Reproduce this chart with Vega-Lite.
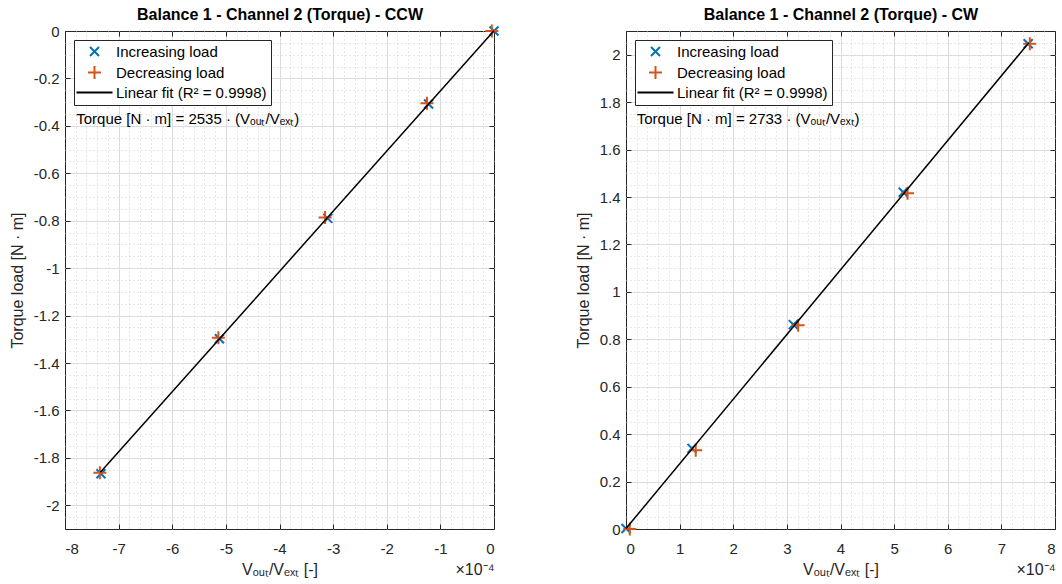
{
  "$schema": "https://vega.github.io/schema/vega-lite/v6.json",
  "background": "white",
  "padding": {"left": 8, "top": 6, "right": 0, "bottom": 0},
  "datasets": {
    "ccw": [
      {"series": "Increasing load", "x": 0, "y": 0},
      {"series": "Increasing load", "x": -0.000122, "y": -0.308},
      {"series": "Increasing load", "x": -0.000310, "y": -0.790},
      {"series": "Increasing load", "x": -0.000512, "y": -1.298},
      {"series": "Increasing load", "x": -0.000733, "y": -1.867},
      {"series": "Decreasing load", "x": -0.000004, "y": 0},
      {"series": "Decreasing load", "x": -0.000125, "y": -0.305},
      {"series": "Decreasing load", "x": -0.000315, "y": -0.786},
      {"series": "Decreasing load", "x": -0.000514, "y": -1.294},
      {"series": "Decreasing load", "x": -0.000735, "y": -1.863},
      {"series": "Linear fit (R² = 0.9998)", "x": -0.000734, "y": -1.861},
      {"series": "Linear fit (R² = 0.9998)", "x": 0, "y": 0.001}
    ],
    "cw": [
      {"series": "Increasing load", "x": 0, "y": 0.002},
      {"series": "Increasing load", "x": 0.000123, "y": 0.340},
      {"series": "Increasing load", "x": 0.000312, "y": 0.862},
      {"series": "Increasing load", "x": 0.000517, "y": 1.420},
      {"series": "Increasing load", "x": 0.000750, "y": 2.046},
      {"series": "Decreasing load", "x": 0.000007, "y": 0},
      {"series": "Decreasing load", "x": 0.000130, "y": 0.332},
      {"series": "Decreasing load", "x": 0.000321, "y": 0.859},
      {"series": "Decreasing load", "x": 0.000525, "y": 1.416},
      {"series": "Decreasing load", "x": 0.000753, "y": 2.046},
      {"series": "Linear fit (R² = 0.9998)", "x": 0, "y": 0.002},
      {"series": "Linear fit (R² = 0.9998)", "x": 0.000751, "y": 2.050}
    ]
  },
  "config": {
    "font": "Liberation Sans",
    "view": {"stroke": "#262626", "strokeWidth": 1},
    "axis": {
      "labelFont": "Liberation Sans",
      "titleFont": "Liberation Sans",
      "labelFontSize": 15,
      "titleFontSize": 16,
      "titleFontWeight": "normal",
      "labelColor": "#262626",
      "titleColor": "#262626",
      "tickColor": "#262626",
      "domain": false
    },
    "legend": {
      "orient": "top-left",
      "offset": 9,
      "padding": 4,
      "strokeColor": "#262626",
      "fillColor": "white",
      "labelFont": "Liberation Sans",
      "labelFontSize": 15,
      "labelColor": "#000000",
      "symbolSize": 100,
      "symbolStrokeWidth": 2,
      "symbolOffset": 9,
      "labelOffset": 14,
      "rowPadding": 2,
      "title": null
    }
  },
  "resolve": {"scale": {"color": "independent", "shape": "independent"}},
  "spacing": 71,
  "hconcat": [
    {
      "width": 429,
      "height": 498,
      "data": {"name": "ccw"},
      "layer": [
        {
          "transform": [{"filter": "datum.series == 'Increasing load'"}],
          "mark": {"type": "point", "filled": false, "strokeWidth": 2, "size": 100, "opacity": 1},
          "encoding": {
            "x": {"field": "x", "type": "quantitative", "scale": {"domain": [-0.0008, 0], "nice": false, "zero": false, "padding": 0},
              "axis": {"orient": "bottom", "tickCount": 8, "grid": true, "gridColor": "#e0e0e0", "tickSize": -5, "labelPadding": 17,
                "gridOpacity": {"condition": {"test": "datum.value < -0.000799 || datum.value > -0.000001", "value": 0}, "value": 1},
                "labelExpr": "'' + round(datum.value * 10000)", "title": "Vₒᵤₜ/Vₑₓₜ [-]", "titlePadding": 5}},
            "y": {"field": "y", "type": "quantitative", "scale": {"domain": [-2.1, 0], "nice": false, "zero": false, "padding": 0},
              "axis": {"orient": "left", "tickCount": 10, "grid": true, "gridColor": "#e0e0e0", "tickSize": -5, "labelPadding": 11,
                "gridOpacity": {"condition": {"test": "datum.value < -2.099 || datum.value > -0.001", "value": 0}, "value": 1},
                "labelExpr": "'' + round(datum.value * 10) / 10", "title": "Torque load [N · m]", "titlePadding": 8}},
            "color": {"field": "series", "type": "nominal",
              "scale": {"domain": ["Increasing load", "Decreasing load", "Linear fit (R² = 0.9998)"], "range": ["#0072BD", "#D95319", "#000000"]}},
            "shape": {"field": "series", "type": "nominal",
              "scale": {"domain": ["Increasing load", "Decreasing load", "Linear fit (R² = 0.9998)"],
                "range": ["M-0.9,-0.9L0.9,0.9M-0.9,0.9L0.9,-0.9", "M-1.3,0L1.3,0M0,-1.3L0,1.3", "M-3.6,0L3.6,0"]}}
          }
        },
        {
          "transform": [{"filter": "datum.series == 'Decreasing load'"}],
          "mark": {"type": "point", "filled": false, "strokeWidth": 2, "size": 100, "opacity": 1},
          "encoding": {
            "x": {"field": "x", "type": "quantitative",
              "axis": {"orient": "top", "tickCount": 8, "grid": false, "labels": false, "tickSize": -5, "minExtent": 0,
                "title": "Balance 1 - Channel 2 (Torque) - CCW", "titleFontWeight": "bold", "titleFontSize": 16, "titleColor": "#000000", "titlePadding": 8}},
            "y": {"field": "y", "type": "quantitative",
              "axis": {"orient": "right", "tickCount": 10, "grid": false, "labels": false, "tickSize": -5, "minExtent": 0, "title": null}},
            "color": {"field": "series", "type": "nominal"},
            "shape": {"field": "series", "type": "nominal"}
          }
        },
        {
          "transform": [{"filter": "datum.series == 'Linear fit (R² = 0.9998)'"}],
          "mark": {"type": "line", "strokeWidth": 1.5},
          "encoding": {
            "x": {"field": "x", "type": "quantitative",
              "axis": {"orient": "bottom", "tickCount": 40, "grid": true, "gridColor": "#d0d0d0", "gridDash": [1, 3], "ticks": false, "labels": false, "minExtent": 0,
                "gridOpacity": {"condition": {"test": "datum.value < -0.000799 || datum.value > -0.000001", "value": 0}, "value": 1},
                "title": "×10⁻⁴", "titleAnchor": "end", "titleAlign": "right", "titleFontSize": 16, "titlePadding": 32}},
            "y": {"field": "y", "type": "quantitative",
              "axis": {"orient": "left", "tickCount": 42, "grid": true, "gridColor": "#d0d0d0", "gridDash": [1, 3], "ticks": false, "labels": false, "minExtent": 0, "title": null,
                "gridOpacity": {"condition": {"test": "datum.value < -2.099 || datum.value > -0.001", "value": 0}, "value": 1}}},
            "color": {"field": "series", "type": "nominal"}
          }
        },
        {
          "data": {"values": [{"label": "Torque [N · m] = 2535 · (Vₒᵤₜ/Vₑₓₜ)"}]},
          "mark": {"type": "text", "align": "left", "baseline": "middle", "fontSize": 15, "font": "Liberation Sans", "color": "#000000"},
          "encoding": {
            "x": {"datum": -0.000779, "type": "quantitative", "axis": null},
            "y": {"datum": -0.372, "type": "quantitative", "axis": null},
            "text": {"field": "label", "type": "nominal"}
          }
        }
      ],
      "resolve": {"axis": {"x": "independent", "y": "independent"}}
    },
    {
      "width": 429,
      "height": 498,
      "data": {"name": "cw"},
      "layer": [
        {
          "transform": [{"filter": "datum.series == 'Increasing load'"}],
          "mark": {"type": "point", "filled": false, "strokeWidth": 2, "size": 100, "opacity": 1},
          "encoding": {
            "x": {"field": "x", "type": "quantitative", "scale": {"domain": [0, 0.0008], "nice": false, "zero": false, "padding": 0},
              "axis": {"orient": "bottom", "tickCount": 8, "grid": true, "gridColor": "#e0e0e0", "tickSize": -5, "labelPadding": 17,
                "gridOpacity": {"condition": {"test": "datum.value < 0.000001 || datum.value > 0.000799", "value": 0}, "value": 1},
                "labelExpr": "'' + round(datum.value * 10000)", "title": "Vₒᵤₜ/Vₑₓₜ [-]", "titlePadding": 5}},
            "y": {"field": "y", "type": "quantitative", "scale": {"domain": [0, 2.1], "nice": false, "zero": false, "padding": 0},
              "axis": {"orient": "left", "tickCount": 10, "grid": true, "gridColor": "#e0e0e0", "tickSize": -5, "labelPadding": 11,
                "gridOpacity": {"condition": {"test": "datum.value < 0.001 || datum.value > 2.099", "value": 0}, "value": 1},
                "labelExpr": "'' + round(datum.value * 10) / 10", "title": "Torque load [N · m]", "titlePadding": 8}},
            "color": {"field": "series", "type": "nominal",
              "scale": {"domain": ["Increasing load", "Decreasing load", "Linear fit (R² = 0.9998)"], "range": ["#0072BD", "#D95319", "#000000"]}},
            "shape": {"field": "series", "type": "nominal",
              "scale": {"domain": ["Increasing load", "Decreasing load", "Linear fit (R² = 0.9998)"],
                "range": ["M-0.9,-0.9L0.9,0.9M-0.9,0.9L0.9,-0.9", "M-1.3,0L1.3,0M0,-1.3L0,1.3", "M-3.6,0L3.6,0"]}}
          }
        },
        {
          "transform": [{"filter": "datum.series == 'Decreasing load'"}],
          "mark": {"type": "point", "filled": false, "strokeWidth": 2, "size": 100, "opacity": 1},
          "encoding": {
            "x": {"field": "x", "type": "quantitative",
              "axis": {"orient": "top", "tickCount": 8, "grid": false, "labels": false, "tickSize": -5, "minExtent": 0,
                "title": "Balance 1 - Channel 2 (Torque) - CW", "titleFontWeight": "bold", "titleFontSize": 16, "titleColor": "#000000", "titlePadding": 8}},
            "y": {"field": "y", "type": "quantitative",
              "axis": {"orient": "right", "tickCount": 10, "grid": false, "labels": false, "tickSize": -5, "minExtent": 0, "title": null}},
            "color": {"field": "series", "type": "nominal"},
            "shape": {"field": "series", "type": "nominal"}
          }
        },
        {
          "transform": [{"filter": "datum.series == 'Linear fit (R² = 0.9998)'"}],
          "mark": {"type": "line", "strokeWidth": 1.5},
          "encoding": {
            "x": {"field": "x", "type": "quantitative",
              "axis": {"orient": "bottom", "tickCount": 40, "grid": true, "gridColor": "#d0d0d0", "gridDash": [1, 3], "ticks": false, "labels": false, "minExtent": 0,
                "gridOpacity": {"condition": {"test": "datum.value < 0.000001 || datum.value > 0.000799", "value": 0}, "value": 1},
                "title": "×10⁻⁴", "titleAnchor": "end", "titleAlign": "right", "titleFontSize": 16, "titlePadding": 32}},
            "y": {"field": "y", "type": "quantitative",
              "axis": {"orient": "left", "tickCount": 42, "grid": true, "gridColor": "#d0d0d0", "gridDash": [1, 3], "ticks": false, "labels": false, "minExtent": 0, "title": null,
                "gridOpacity": {"condition": {"test": "datum.value < 0.001 || datum.value > 2.099", "value": 0}, "value": 1}}},
            "color": {"field": "series", "type": "nominal"}
          }
        },
        {
          "data": {"values": [{"label": "Torque [N · m] = 2733 · (Vₒᵤₜ/Vₑₓₜ)"}]},
          "mark": {"type": "text", "align": "left", "baseline": "middle", "fontSize": 15, "font": "Liberation Sans", "color": "#000000"},
          "encoding": {
            "x": {"datum": 0.00002, "type": "quantitative", "axis": null},
            "y": {"datum": 1.73, "type": "quantitative", "axis": null},
            "text": {"field": "label", "type": "nominal"}
          }
        }
      ],
      "resolve": {"axis": {"x": "independent", "y": "independent"}}
    }
  ]
}
